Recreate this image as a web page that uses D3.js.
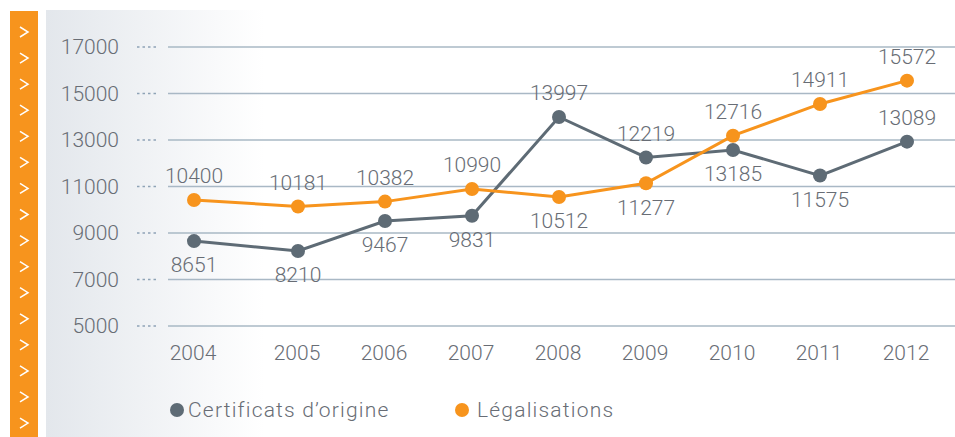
<!DOCTYPE html>
<html>
<head>
<meta charset="utf-8">
<script src="https://cdn.jsdelivr.net/npm/d3@7"></script>
<style>
  body { margin: 0; background: #fff; }
  text { font-family: "Roboto", "DejaVu Sans", sans-serif; font-weight: 300; fill: #686d75; }
</style>
</head>
<body>
<script>
// values
let years = [2004, 2005, 2006, 2007, 2008, 2009, 2010, 2011, 2012]
let certificats = [8651, 8226, 9516, 9740, 13990, 12250, 12570, 11470, 12930]
let legalisations = [10420, 10140, 10350, 10890, 10550, 11140, 13185, 14550, 15552]
// numbers as printed next to the points
let certLabels = ["8651", "8210", "9467", "9831", "13997", "12219", "13185", "11575", "13089"]
let legLabels = ["10400", "10181", "10382", "10990", "10512", "11277", "12716", "14911", "15572"]
let yTicks = [5000, 7000, 9000, 11000, 13000, 15000, 17000]
let seriesNames = ["Certificats d\u2019origine", "Légalisations"]

let w = 955, h = 437
let dark = "#5e6b75", orange = "#f7941d"

let svg = d3.select("body").append("svg").attr("width", w).attr("height", h)

// background panel with gradient
let defs = svg.append("defs")
let grad = defs.append("linearGradient").attr("id", "bg").attr("x1", 0).attr("x2", 1).attr("y1", 0).attr("y2", 0)
grad.append("stop").attr("offset", 0).attr("stop-color", "#e3e7ec")
grad.append("stop").attr("offset", 0.24).attr("stop-color", "#ffffff")
svg.append("rect").attr("x", 46).attr("y", 10).attr("width", w - 46).attr("height", h - 10).attr("fill", "url(#bg)")

// orange strip with chevrons
svg.append("rect").attr("x", 10).attr("y", 11).attr("width", 28).attr("height", h - 11).attr("fill", orange)
svg.selectAll(".chev").data(d3.range(16)).enter().append("path")
  .attr("class", "chev")
  .attr("d", function(d){
    let cy = 32 + d * 26.07
    return "M20," + (cy - 5) + "L28," + cy + "L20," + (cy + 5)
  })
  .attr("fill", "none").attr("stroke", "#fff").attr("stroke-width", 1.5)

let x = d3.scaleLinear().domain([2004, 2005, 2012]).range([194, 298, 907])
let y = d3.scaleLinear().domain([5000, 17000]).range([326, 47])

// grid
let grid = svg.append("g")
yTicks.forEach(function(t){
  grid.append("line").attr("x1", 168).attr("x2", w).attr("y1", y(t)).attr("y2", y(t))
    .attr("stroke", "#a9b8c5").attr("stroke-width", 1.5)
  grid.append("line").attr("x1", 137).attr("x2", 157).attr("y1", y(t)).attr("y2", y(t))
    .attr("stroke", "#8ea3b6").attr("stroke-width", 1.5).attr("stroke-dasharray", "2.5,3")
  grid.append("text").attr("x", 119).attr("y", y(t)).attr("dy", "0.35em")
    .attr("text-anchor", "end").style("font-size", "21px").text(t)
})

// year labels
svg.selectAll(".year").data(years).enter().append("text")
  .attr("class", "year")
  .attr("x", function(d){ return x(d) - 1 })
  .attr("y", 360)
  .attr("text-anchor", "middle").style("font-size", "21px")
  .text(function(d){ return d })

function drawSeries(values, labels, color, above) {
  let pts = years.map(function(yr, i){ return [x(yr), y(values[i])] })
  svg.append("path").attr("d", d3.line()(pts))
    .attr("fill", "none").attr("stroke", color).attr("stroke-width", 3)
  svg.selectAll(null).data(pts).enter().append("circle")
    .attr("cx", function(d){ return d[0] }).attr("cy", function(d){ return d[1] })
    .attr("r", 7).attr("fill", color)
  svg.selectAll(null).data(pts).enter().append("text")
    .attr("x", function(d){ return d[0] })
    .attr("y", function(d, i){ return d[1] + (above[i] ? -24 : 24) })
    .attr("dy", "0.35em")
    .attr("text-anchor", "middle").style("font-size", "21px")
    .text(function(d, i){ return labels[i] })
}

drawSeries(certificats, certLabels, dark, [0, 0, 0, 0, 1, 1, 0, 0, 1])
drawSeries(legalisations, legLabels, orange, [1, 1, 1, 1, 0, 0, 1, 1, 1])

// legend
let legend = svg.append("g")
legend.append("circle").attr("cx", 177).attr("cy", 410).attr("r", 7).attr("fill", dark)
legend.append("text").attr("x", 188).attr("y", 410).attr("dy", "0.35em")
  .style("font-size", "21px").style("letter-spacing", "1.2px").text(seriesNames[0])
legend.append("circle").attr("cx", 462).attr("cy", 410).attr("r", 7).attr("fill", orange)
legend.append("text").attr("x", 477).attr("y", 410).attr("dy", "0.35em")
  .style("font-size", "21px").style("letter-spacing", "1.2px").text(seriesNames[1])
</script>
</body>
</html>
